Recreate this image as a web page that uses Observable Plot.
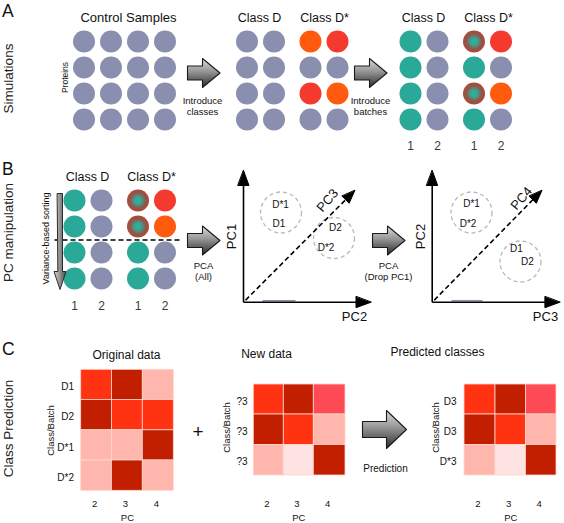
<!DOCTYPE html>
<html><head><meta charset="utf-8">
<script src="https://cdn.jsdelivr.net/npm/d3@7"></script>
<script src="https://cdn.jsdelivr.net/npm/@observablehq/plot@0.6"></script>
<style>html,body{margin:0;padding:0;background:#fff}svg{display:block}</style>
</head><body><div id="chart"></div>
<script>
// ---------------- data ----------------
const panelLetters = ["A", "B", "C"];
const rowTitles = ["Simulations", "PC manipulation", "Class Prediction"];
const stepTitlesA = ["Control Samples", "Class D", "Class D*", "Class D", "Class D*"];
const stepTitlesB = ["Class D", "Class D*"];
const arrowCaptions = [["Introduce", "classes"], ["Introduce", "batches"], ["PCA", "(All)"], ["PCA", "(Drop PC1)"], ["Prediction"]];
const controlSamples = [["g","g","g","g"],["g","g","g","g"],["g","g","g","g"],["g","g","g","g"]];
const classesIntroduced = [["g","g","o","r"],["g","g","g","g"],["g","g","r","o"],["g","g","g","g"]];
const batchesIntroduced = [["t","g","m","r"],["t","g","t","g"],["t","g","m","o"],["t","g","t","g"]];
const sortedByVariance = [["t","g","m","r"],["t","g","m","o"],["t","g","t","g"],["t","g","t","g"]];
const batchLabels = ["1", "2", "1", "2"];
const pcaAllAxes = ["PC1", "PC2", "PC3"];
const pcaDropAxes = ["PC2", "PC3", "PC4"];
const pcaAllClusters = [["D*1", "D1"], ["D2", "D*2"]];
const pcaDropClusters = [["D*1", "D*2"], ["D1", "D2"]];
const pcTicks = ["2", "3", "4"];
const heatTitles = ["Original data", "New data", "Predicted classes"];
const originalRows = ["D1", "D2", "D*1", "D*2"];
const originalData = [["R","K","L"],["K","R","R"],["L","L","K"],["L","K","L"]];
const newRows = ["?3", "?3", "?3"];
const newData = [["R","K","P"],["K","R","L"],["L","V","K"]];
const predictedRows = ["D3", "D3", "D*3"];
const predictedData = [["R","K","P"],["K","R","L"],["L","V","K"]];

// ---------------- styles ----------------
const FONT = "'Liberation Sans', Arial, Helvetica, sans-serif";
const circleColors = {g: "#8a8fb0", t: "#2aa898", o: "#ff5a0e", r: "#f43a2e", m: "url(#mixGrad)"};
const heatColors = {R: "#ff3312", K: "#c21f00", L: "#ffb7ad", P: "#ff4b55", V: "#fde3e1"};

// ---------------- layout ----------------
const W = 564, H = 523;
const rowsA = [41, 67, 93, 119], rowsB = [200, 226, 252, 278];
const grids = [
  {m: controlSamples, cols: [83.5, 110.5, 137.5, 164.5], rows: rowsA},
  {m: classesIntroduced, cols: [246.5, 273.5, 310, 337], rows: rowsA},
  {m: batchesIntroduced, cols: [410, 437, 473.5, 500.5], rows: rowsA, labelY: 145.7},
  {m: sortedByVariance, cols: [74, 101, 137.5, 164.5], rows: rowsB, labelY: 306}
];
const titleA = [[128, 17.5], [259, 17.5], [324, 17.5], [423, 17.5], [488, 17.5]];
const titleB = [[87, 176.7], [151, 176.7]];
const blockArrows = [
  {xl: 187, xs: 202, xt: 219.5, yc: 72.5, sh: 7, hh: 14.5, cap: [202, 100]},
  {xl: 354, xs: 369, xt: 386.5, yc: 72.5, sh: 7, hh: 14.5, cap: [370, 100]},
  {xl: 187, xs: 202, xt: 219.5, yc: 240, sh: 7, hh: 14.5, cap: [203, 265]},
  {xl: 372, xs: 387, xt: 404.5, yc: 240, sh: 7, hh: 14.5, cap: [388, 265]},
  {xl: 362, xs: 386, xt: 406, yc: 429, sh: 8, hh: 19, cap: [385, 468]}
];
const scatters = [
  {axes: pcaAllAxes, clusters: pcaAllClusters, o: [243, 301.7], top: 170, right: 370.5, diag: [354.3, 190],
   yl: [231, 236], xl: [354, 316], dl: [327, 200], centers: [[280.5, 212], [333.5, 237.5]],
   labs: [[[280, 204], [278.5, 223]], [[335, 227], [325.5, 247]]], bar: [262, 295]},
  {axes: pcaDropAxes, clusters: pcaDropClusters, o: [431.7, 301.7], top: 170, right: 559.4, diag: [541.4, 190],
   yl: [420, 236], xl: [545, 316], dl: [521, 198], centers: [[471, 212], [520, 261]],
   labs: [[[471, 203], [467.6, 223]], [[516, 248.5], [527, 261]]], bar: [451, 482]}
];
const heatmaps = [
  {title: heatTitles[0], t: [126, 355], rows: originalRows, m: originalData,
   xe: [80.7, 111.5, 142.3, 173.3], ye: [369.3, 399.5, 429.8, 460, 490.3], lx: 73.5, cb: [50, 430]},
  {title: heatTitles[1], t: [266, 354], rows: newRows, m: newData,
   xe: [253.3, 283.3, 313.3, 345], ye: [384, 414, 444.5, 475], lx: 247, cb: [226, 427]},
  {title: heatTitles[2], t: [437, 352], rows: predictedRows, m: predictedData,
   xe: [464, 495, 525.5, 556], ye: [384, 414, 444.5, 475], lx: 456, cb: [435, 427]}
];

// ---------------- build mark tables ----------------
const circles = [];
grids.forEach(g => g.m.forEach((row, r) => row.forEach((k, c) =>
  circles.push({x: g.cols[c], y: g.rows[r], fill: circleColors[k]}))));

const texts = [];
const T = (t, x, y, s, o = {}) => texts.push({t, x, y, s, rot: o.rot || 0, anchor: o.anchor || "middle", fill: o.fill || "#111"});
[11, 169, 349].forEach((y, i) => T(panelLetters[i], 1.5, y, 17.5, {anchor: "start"}));
[78, 232, 428].forEach((y, i) => T(rowTitles[i], 8, y, 13.5, {rot: -90, fill: "#222"}));
stepTitlesA.forEach((t, i) => T(t, titleA[i][0], titleA[i][1], i === 0 ? 13 : 12.5));
stepTitlesB.forEach((t, i) => T(t, titleB[i][0], titleB[i][1], 12.5));
T("Proteins", 65, 77, 8.5, {rot: -90});
T("Variance-based sorting", 46, 238, 9, {rot: -90});
[grids[2], grids[3]].forEach(g => batchLabels.forEach((b, i) => T(b, g.cols[i], g.labelY, 12, {fill: "#3a3a3a"})));
blockArrows.forEach((a, i) => arrowCaptions[i].forEach((line, j) => T(line, a.cap[0], a.cap[1] + j * 11.7, i === 4 ? 10 : 9.5)));
T("+", 197.5, 431, 19);

const polys = [];
blockArrows.forEach((a, i) => {
  const pts = [[a.xl, a.yc - a.sh], [a.xs, a.yc - a.sh], [a.xs, a.yc - a.hh], [a.xt, a.yc],
               [a.xs, a.yc + a.hh], [a.xs, a.yc + a.sh], [a.xl, a.yc + a.sh]];
  pts.forEach(([x, y]) => polys.push({id: "b" + i, x, y}));
});
const vArrow = [[57, 193], [62, 193], [62, 271], [65.5, 271], [59.5, 289], [53.5, 271], [57, 271]].map(([x, y]) => ({id: "v", x, y}));

const heads = [], links = [], dashLinks = [], rings = [], bars = [];
function head(id, tx, ty, dx, dy, len, half) {
  const n = Math.hypot(dx, dy), ux = dx / n, uy = dy / n;
  const bx = tx - ux * len, by = ty - uy * len;
  [[tx, ty], [bx - uy * half, by + ux * half], [bx + uy * half, by - ux * half]].forEach(([x, y]) => heads.push({id, x, y}));
  return [bx, by];
}
scatters.forEach((s, i) => {
  const [ox, oy] = s.o;
  const up = head("u" + i, ox, s.top, 0, -1, 15, 5.5);
  const rt = head("r" + i, s.right, oy, 1, 0, 15, 5.5);
  const dg = head("d" + i, s.diag[0], s.diag[1], s.diag[0] - ox, s.diag[1] - oy, 13, 5);
  links.push({x1: ox, y1: oy, x2: up[0], y2: up[1]}, {x1: ox, y1: oy, x2: rt[0], y2: rt[1]});
  dashLinks.push({x1: ox + 2, y1: oy - 2, x2: dg[0], y2: dg[1]});
  bars.push({x1: s.bar[0], x2: s.bar[1], y1: oy - 1.5, y2: oy - 1.5});
  T(s.axes[0], s.yl[0], s.yl[1], 13, {rot: -90});
  T(s.axes[1], s.xl[0], s.xl[1], 13);
  T(s.axes[2], s.dl[0], s.dl[1], 13, {rot: -50});
  s.clusters.forEach((cl, c) => {
    rings.push({x: s.centers[c][0], y: s.centers[c][1]});
    cl.forEach((lab, j) => T(lab, s.labs[c][j][0], s.labs[c][j][1], 10));
  });
});
// horizontal variance cut line in B
dashLinks.push({x1: 54, y1: 239.5, x2: 180, y2: 239.5});

const cells = [];
heatmaps.forEach(h => {
  h.m.forEach((row, r) => row.forEach((k, c) => cells.push({
    x1: h.xe[c], x2: h.xe[c + 1], y1: h.ye[r], y2: h.ye[r + 1], fill: heatColors[k]})));
  h.rows.forEach((lab, r) => T(lab, h.lx, (h.ye[r] + h.ye[r + 1]) / 2 + 2, 10, {anchor: "end"}));
  pcTicks.forEach((t, c) => T(t, (h.xe[c] + h.xe[c + 1]) / 2 - 2, 503, 9.5));
  T("PC", (h.xe[1] + h.xe[2]) / 2, 517.5, 9.5);
  T("Class/Batch", h.cb[0], h.cb[1], 9.5, {rot: -90});
  T(h.title, h.t[0], h.t[1], 12);
});

// ---------------- plot ----------------
const textMark = a => Plot.text(texts.filter(d => d.anchor === a), {
  x: "x", y: "y", text: "t", fontSize: d => d.s, rotate: d => d.rot, fill: "fill",
  textAnchor: a, fontFamily: FONT
});
const plot = Plot.plot({
  width: W, height: H, margin: 0,
  x: {domain: [0, W], range: [0, W], axis: null},
  y: {domain: [0, H], range: [0, H], axis: null},
  color: {type: "identity"},
  style: {fontFamily: FONT, background: "#fff"},
  marks: [
    Plot.rect(cells, {x1: "x1", x2: "x2", y1: "y1", y2: "y2", fill: "fill", stroke: "#ffd4cc", strokeWidth: 0.8}),
    Plot.dot(circles, {x: "x", y: "y", r: 11, fill: "fill"}),
    Plot.dot(rings, {x: "x", y: "y", r: 20.5, fill: "none", stroke: "#b8b8b8", strokeWidth: 1.3, strokeDasharray: "4,3"}),
    Plot.link(bars, {x1: "x1", y1: "y1", x2: "x2", y2: "y2", stroke: "#8a8fb0", strokeWidth: 1.5}),
    Plot.link(links, {x1: "x1", y1: "y1", x2: "x2", y2: "y2", stroke: "#000", strokeWidth: 1.6}),
    Plot.link(dashLinks, {x1: "x1", y1: "y1", x2: "x2", y2: "y2", stroke: "#000", strokeWidth: 1.6, strokeDasharray: "5,3"}),
    Plot.line(heads, {x: "x", y: "y", z: "id", curve: "linear-closed", fill: "#000", stroke: "#000", strokeWidth: 1}),
    Plot.line(polys, {x: "x", y: "y", z: "id", curve: "linear-closed", fill: "url(#arrowGrad)", stroke: "#1a1a1a", strokeWidth: 1.1}),
    Plot.line(vArrow, {x: "x", y: "y", z: "id", curve: "linear-closed", fill: "url(#barGrad)", stroke: "#2a2a2a", strokeWidth: 1}),
    textMark("middle"), textMark("start"), textMark("end")
  ]
});
const svgEl = plot.tagName.toLowerCase() === "svg" ? plot : plot.querySelector("svg");
const defs = d3.select(svgEl).insert("defs", ":first-child");
const lg = defs.append("linearGradient").attr("id", "arrowGrad").attr("x1", 0).attr("y1", 0).attr("x2", 0).attr("y2", 1);
[[0, "#dcdcdc"], [0.45, "#959595"], [1, "#2b2b2b"]].forEach(([o, c]) => lg.append("stop").attr("offset", o).attr("stop-color", c));
const bg = defs.append("linearGradient").attr("id", "barGrad").attr("x1", 0).attr("y1", 0).attr("x2", 1).attr("y2", 0);
[[0, "#d8d8d8"], [1, "#4a4a4a"]].forEach(([o, c]) => bg.append("stop").attr("offset", o).attr("stop-color", c));
const rg = defs.append("radialGradient").attr("id", "mixGrad");
[[0, "#22b8a6"], [0.3, "#3aa596"], [0.7, "#8c5848"], [1, "#b5443a"]].forEach(([o, c]) => rg.append("stop").attr("offset", o).attr("stop-color", c));
document.getElementById("chart").appendChild(plot);
</script>
</body></html>
